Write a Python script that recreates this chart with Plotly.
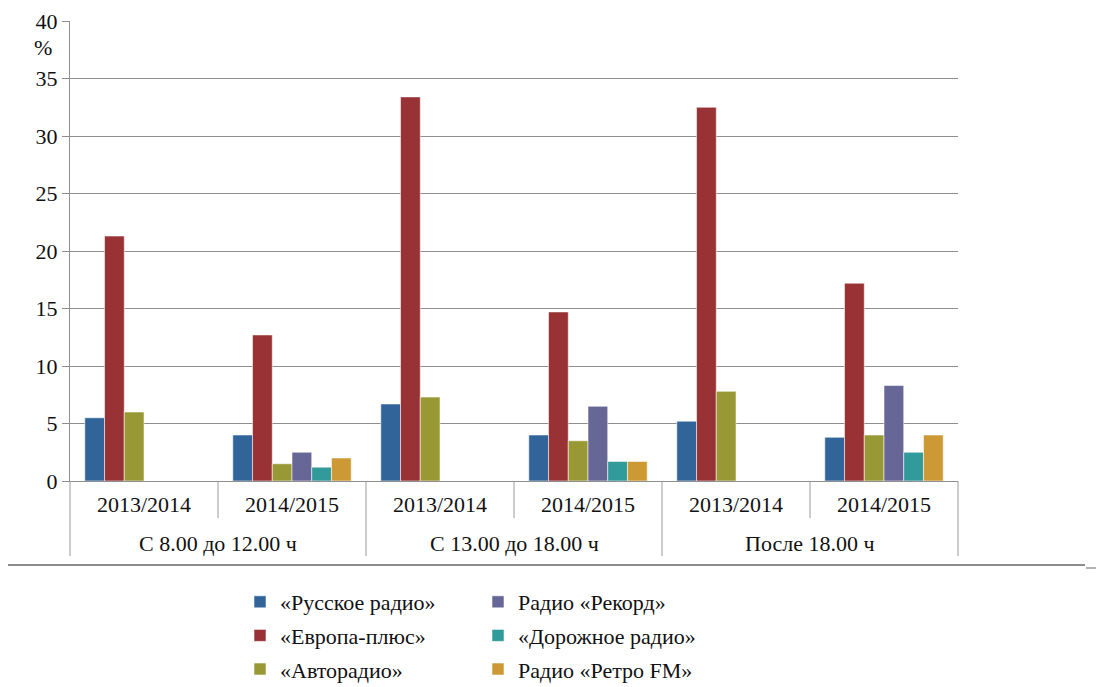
import plotly.graph_objects as go

periods = ["С 8.00 до 12.00 ч", "С 8.00 до 12.00 ч",
           "С 13.00 до 18.00 ч", "С 13.00 до 18.00 ч",
           "После 18.00 ч", "После 18.00 ч"]
seasons = ["2013/2014", "2014/2015", "2013/2014", "2014/2015", "2013/2014", "2014/2015"]
period_labels = ["С 8.00 до 12.00 ч", "С 13.00 до 18.00 ч", "После 18.00 ч"]

russkoe = [5.5, 4.0, 6.7, 4.0, 5.2, 3.8]
evropa = [21.3, 12.7, 33.4, 14.7, 32.5, 17.2]
avto = [6.0, 1.5, 7.3, 3.5, 7.8, 4.0]
rekord = [None, 2.5, None, 6.5, None, 8.3]
dorozhnoe = [None, 1.2, None, 1.7, None, 2.5]
retro = [None, 2.0, None, 1.7, None, 4.0]

series = [
    ("«Русское радио»", russkoe, "#31659a", "legend", 1),
    ("«Европа-плюс»", evropa, "#983235", "legend", 2),
    ("«Авторадио»", avto, "#989935", "legend", 3),
    ("Радио «Рекорд»", rekord, "#666797", "legend2", 1),
    ("«Дорожное радио»", dorozhnoe, "#319a9a", "legend2", 2),
    ("Радио «Ретро FM»", retro, "#cd9934", "legend2", 3),
]

FONT = "Liberation Serif"
keys = [f"{p} | {s}" for p, s in zip(periods, seasons)]

fig = go.Figure()
for name, vals, color, leg, rank in series:
    fig.add_trace(go.Bar(
        x=keys, y=vals, name=name,
        marker=dict(color=color, line=dict(color="rgba(255,255,255,0.55)", width=1)),
        legend=leg, legendrank=rank, legendgroup=name,
    ))

OFF = 8  # page body margin
W, H = 1104 - OFF, 687 - OFF
# plot area in screen pixels: x 70..958, y 21..481
PL, PR, PT, PB = 70, 958, 21, 481
L, T = PL - OFF, PT - OFF
R, B = W - (PR - OFF), H - (PB - OFF)
pw, ph = PR - PL, PB - PT

def px_x(x):
    return (x - PL) / pw

def px_y(y):
    return (PB - y) / ph

n = len(keys)
shapes = []
# short dividers between inner categories
for k in range(1, n, 2):
    shapes.append(dict(type="line", xref="paper", yref="paper",
                       x0=k / n, x1=k / n, y0=0, y1=px_y(518),
                       line=dict(color="#9a9a9a", width=1)))
# long dividers between periods
for k in range(0, n + 1, 2):
    shapes.append(dict(type="line", xref="paper", yref="paper",
                       x0=k / n, x1=k / n, y0=0, y1=px_y(556),
                       line=dict(color="#9a9a9a", width=1)))
# separator line below the chart
shapes.append(dict(type="line", xref="paper", yref="paper",
                   x0=px_x(8), x1=px_x(1085), y0=px_y(565), y1=px_y(565),
                   line=dict(color="#8c8c8c", width=2)))
shapes.append(dict(type="line", xref="paper", yref="paper",
                   x0=px_x(1086), x1=px_x(1104), y0=px_y(568), y1=px_y(568),
                   line=dict(color="#9c9c9c", width=1.5)))

annotations = [dict(text="%", xref="paper", yref="paper",
                    x=px_x(43), y=px_y(47), showarrow=False,
                    xanchor="center", yanchor="middle",
                    font=dict(family=FONT, size=22, color="#111"))]
for g, lab in enumerate(period_labels):
    annotations.append(dict(text=lab, xref="paper", yref="paper",
                            x=(2 * g + 1) / n, y=px_y(543), showarrow=False,
                            xanchor="center", yanchor="middle",
                            font=dict(family=FONT, size=22, color="#111")))

fig.update_layout(
    width=W, height=H,
    margin=dict(l=L, r=R, t=T, b=B, pad=0, autoexpand=False),
    paper_bgcolor="white", plot_bgcolor="white",
    barmode="group", bargap=0.2, bargroupgap=0,
    font=dict(family=FONT, color="#111", size=22),
    showlegend=True,
    legend=dict(x=px_x(240), y=px_y(581), xanchor="left", yanchor="top",
                orientation="v", font=dict(family=FONT, size=22, color="#111"),
                tracegroupgap=2, bgcolor="rgba(0,0,0,0)"),
    legend2=dict(x=px_x(478), y=px_y(581), xanchor="left", yanchor="top",
                 orientation="v", font=dict(family=FONT, size=22, color="#111"),
                 tracegroupgap=2, bgcolor="rgba(0,0,0,0)"),
    shapes=shapes,
    annotations=annotations,
)

fig.update_yaxes(range=[0, 40], dtick=5, tick0=0,
                 showgrid=True, gridcolor="#8f8f8f", gridwidth=1,
                 showline=True, linecolor="#8f8f8f", linewidth=1,
                 ticks="outside", ticklen=7, tickcolor="#8f8f8f",
                 tickfont=dict(family=FONT, size=22, color="#111"),
                 zeroline=False, automargin=False)
fig.update_xaxes(type="category", range=[-0.5, n - 0.5],
                 tickmode="array", tickvals=keys, ticktext=seasons,
                 showline=True, linecolor="#8f8f8f", linewidth=1,
                 ticks="", ticklabelstandoff=4,
                 tickfont=dict(family=FONT, size=22, color="#111"),
                 showgrid=False, automargin=False)

fig.write_html("out.html")
